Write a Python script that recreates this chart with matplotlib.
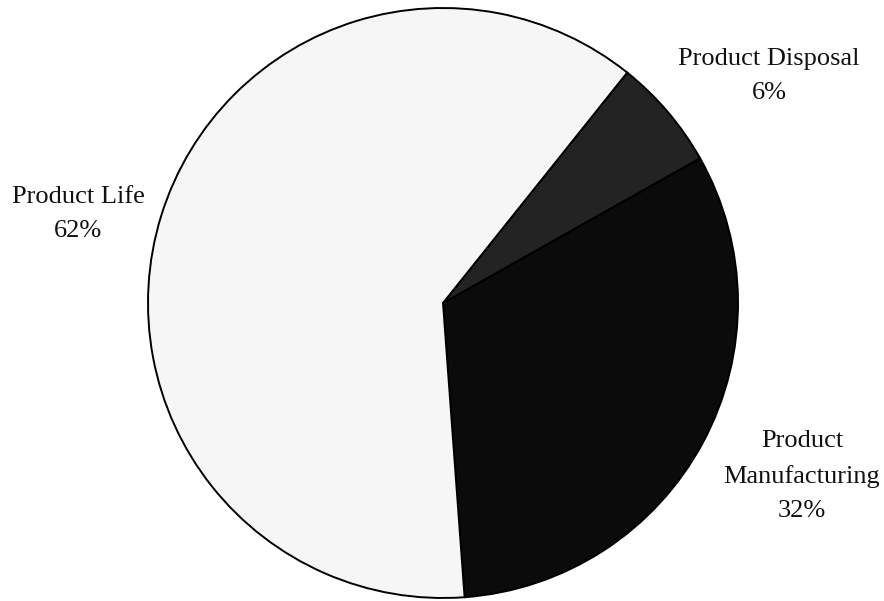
import matplotlib.pyplot as plt

labels = ['Product Manufacturing', 'Product Disposal', 'Product Life']
shares = [32.0, 6.1, 61.9]
label_text = ['Product\nManufacturing\n32%', 'Product Disposal\n6%', 'Product Life\n62%']
colors = ['#0b0b0b', '#232323', '#f6f6f6']

# label centres in pixel coords (y measured from top)
label_pos = [(802, 476), (769, 76), (78, 214)]

W, H = 884, 601
fig = plt.figure(figsize=(W / 100, H / 100), dpi=100)
ax = fig.add_axes([0, 0, 1, 1])

ax.pie(shares, colors=colors, startangle=-85.8, counterclock=True,
       center=(443, H - 303), radius=295, frame=True,
       wedgeprops=dict(edgecolor='black', linewidth=1.4))
ax.set_xlim(0, W)
ax.set_ylim(0, H)
ax.set_aspect('equal')
ax.axis('off')

for txt, (x, y) in zip(label_text, label_pos):
    ax.text(x, H - y, txt, ha='center', va='center', fontsize=19,
            family='Liberation Serif', linespacing=1.7, color='#111111')

fig.savefig('out.png', dpi=100)
